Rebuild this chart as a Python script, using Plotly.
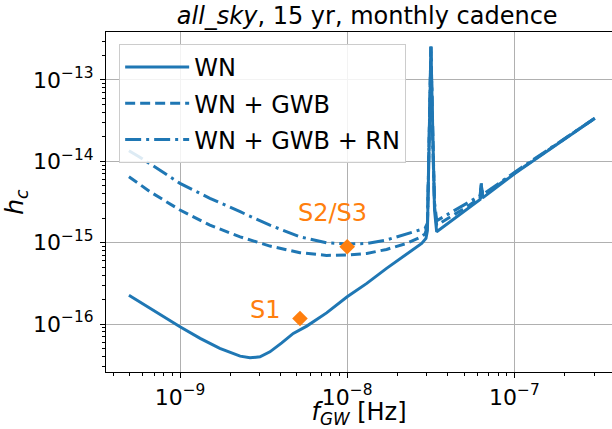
import plotly.graph_objects as go

# ---- data (frequency in Hz, characteristic strain) ----
f_wn = [4.95e-10, 6.62e-10, 1.00e-9, 1.32e-9, 1.73e-9, 2.29e-9, 2.62e-9, 3.01e-9, 3.45e-9,
        4.06e-9, 4.76e-9, 5.73e-9, 7.53e-9, 1.00e-8, 1.31e-8, 1.72e-8, 2.27e-8, 2.79e-8,
        2.96e-8, 3.02e-8, 3.09e-8, 3.14e-8, 3.17e-8, 3.20e-8, 3.25e-8, 3.33e-8, 3.43e-8,
        5.19e-8, 6.24e-8, 6.34e-8, 6.46e-8, 1.01e-7, 1.71e-7, 3.03e-7]
h_wn = [2.26e-16, 1.56e-16, 9.25e-17, 6.65e-17, 5.01e-17, 4.03e-17, 3.84e-17, 3.95e-17, 4.55e-17,
        5.87e-17, 7.66e-17, 9.42e-17, 1.37e-16, 2.16e-16, 3.16e-16, 4.83e-16, 7.24e-16, 9.79e-16,
        1.13e-15, 1.41e-15, 1.58e-14, 1.0e-13, 2.57e-13, 1.0e-13, 1.58e-14, 2.51e-15, 1.36e-15,
        2.52e-15, 3.40e-15, 5.13e-15, 3.55e-15, 7.11e-15, 1.51e-14, 3.38e-14]

f_gwb = [4.95e-10, 6.62e-10, 1.00e-9, 1.51e-9, 2.29e-9, 3.45e-9, 5.22e-9, 7.53e-9, 1.00e-8,
         1.31e-8, 1.72e-8, 2.27e-8, 2.72e-8, 2.92e-8, 3.02e-8, 3.09e-8, 3.14e-8, 3.17e-8,
         3.20e-8, 3.25e-8, 3.33e-8, 3.43e-8, 5.19e-8, 6.24e-8, 6.34e-8, 6.46e-8, 1.01e-7,
         1.71e-7, 3.03e-7]
h_gwb = [6.47e-15, 4.23e-15, 2.52e-15, 1.64e-15, 1.18e-15, 9.08e-16, 7.52e-16, 6.97e-16, 7.05e-16,
         7.38e-16, 8.26e-16, 9.79e-16, 1.16e-15, 1.28e-15, 1.58e-15, 1.58e-14, 1.0e-13, 2.57e-13,
         1.0e-13, 1.58e-14, 2.82e-15, 1.64e-15, 2.75e-15, 3.55e-15, 5.13e-15, 3.72e-15, 7.24e-15,
         1.52e-14, 3.39e-14]

f_rn = [4.95e-10, 5.69e-10, 1.00e-9, 1.51e-9, 2.29e-9, 3.45e-9, 5.22e-9, 7.53e-9, 1.00e-8,
        1.31e-8, 1.72e-8, 2.27e-8, 2.79e-8, 2.92e-8, 3.02e-8, 3.09e-8, 3.14e-8, 3.17e-8,
        3.20e-8, 3.25e-8, 3.33e-8, 3.43e-8, 5.19e-8, 6.24e-8, 6.34e-8, 6.46e-8, 1.01e-7,
        1.71e-7, 3.03e-7]
h_rn = [1.35e-14, 1.14e-14, 5.36e-15, 3.51e-15, 2.40e-15, 1.64e-15, 1.18e-15, 9.98e-16, 9.62e-16,
        9.79e-16, 1.08e-15, 1.28e-15, 1.46e-15, 1.50e-15, 1.74e-15, 1.58e-14, 1.0e-13, 2.57e-13,
        1.0e-13, 1.58e-14, 3.16e-15, 1.86e-15, 3.04e-15, 3.80e-15, 5.37e-15, 3.89e-15, 7.41e-15,
        1.53e-14, 3.39e-14]

src_names = ["S1", "S2/S3"]
src_f = [5.22e-9, 1.00e-8]
src_h = [1.17e-16, 8.9e-16]

x_ticks = [1e-9, 1e-8, 1e-7]
x_ticktext = ["10<sup>−9</sup>", "10<sup>−8</sup>", "10<sup>−7</sup>"]
y_ticks = [1e-16, 1e-15, 1e-14, 1e-13]
y_ticktext = ["10<sup>−16</sup>", "10<sup>−15</sup>", "10<sup>−14</sup>", "10<sup>−13</sup>"]

BLUE = "#1f77b4"
ORANGE = "#ff7f0e"
FONT = "DejaVu Sans"

fig = go.Figure()
fig.add_trace(go.Scatter(x=f_wn, y=h_wn, mode="lines", name="WN",
                         line=dict(color=BLUE, width=3), legendgroup="a"))
fig.add_trace(go.Scatter(x=f_gwb, y=h_gwb, mode="lines", name="WN + GWB",
                         line=dict(color=BLUE, width=3, dash="10px,5px"), legendgroup="b"))
fig.add_trace(go.Scatter(x=f_rn, y=h_rn, mode="lines", name="WN + GWB + RN",
                         line=dict(color=BLUE, width=3, dash="16px,5px,3px,5px"), legendgroup="c"))
fig.add_trace(go.Scatter(x=src_f, y=src_h, mode="markers", showlegend=False,
                         marker=dict(symbol="diamond", size=12, color=ORANGE)))

# labels of the sources
fig.add_annotation(x=-8.486, y=-15.829, text=src_names[0], showarrow=False,
                   font=dict(family=FONT, size=24, color=ORANGE))
fig.add_annotation(x=-8.085, y=-14.636, text=src_names[1], showarrow=False,
                   font=dict(family=FONT, size=24, color=ORANGE))

minor_x = [k * 10.0 ** n for n in range(-10, -6) for k in range(2, 10)]
minor_y = [k * 10.0 ** n for n in range(-17, -12) for k in range(2, 10)]

fig.update_layout(
    width=612, height=429,
    margin=dict(l=106, r=0, t=32, b=57, autoexpand=False),
    paper_bgcolor="white", plot_bgcolor="white",
    font=dict(family=FONT, color="black"),
    title=dict(text="<i>all_sky</i>, 15 yr, monthly cadence", x=0.6, xanchor="center",
               y=0.983, yanchor="top", yref="container", font=dict(size=24, color="black")),
    showlegend=True,
    legend=dict(x=0.026, y=0.965, xanchor="left", yanchor="top",
                bgcolor="rgba(255,255,255,0.85)", bordercolor="#cccccc", borderwidth=1,
                font=dict(size=24, color="black"), tracegroupgap=2, itemwidth=64),
)
fig.update_xaxes(type="log", range=[-9.4426, -6.416], automargin=False,
                 tickvals=x_ticks, ticktext=x_ticktext, tickfont=dict(size=22),
                 showgrid=True, gridcolor="#b0b0b0", gridwidth=1,
                 showline=True, linecolor="black", linewidth=1.2, mirror=True,
                 ticks="outside", ticklen=5, tickcolor="black",
                 minor=dict(tickvals=minor_x, ticks="outside", ticklen=3, tickcolor="black", showgrid=False),
                 zeroline=False,
                 title=dict(text="<i>f</i><sub><i>GW</i></sub> [Hz]", font=dict(size=24), standoff=2))
fig.update_yaxes(type="log", range=[-16.59, -12.41], automargin=False,
                 tickvals=y_ticks, ticktext=y_ticktext, tickfont=dict(size=22),
                 showgrid=True, gridcolor="#b0b0b0", gridwidth=1,
                 showline=True, linecolor="black", linewidth=1.2,
                 ticks="outside", ticklen=5, tickcolor="black", ticklabelstandoff=2,
                 minor=dict(tickvals=minor_y, ticks="outside", ticklen=3, tickcolor="black", showgrid=False),
                 zeroline=False,
                 title=dict(text="<i>h</i><sub><i>c</i></sub>", font=dict(size=25), standoff=7))

fig.write_html("out.html", config={"displayModeBar": False},
               post_script="document.body.style.margin='0';document.body.style.padding='0';")
